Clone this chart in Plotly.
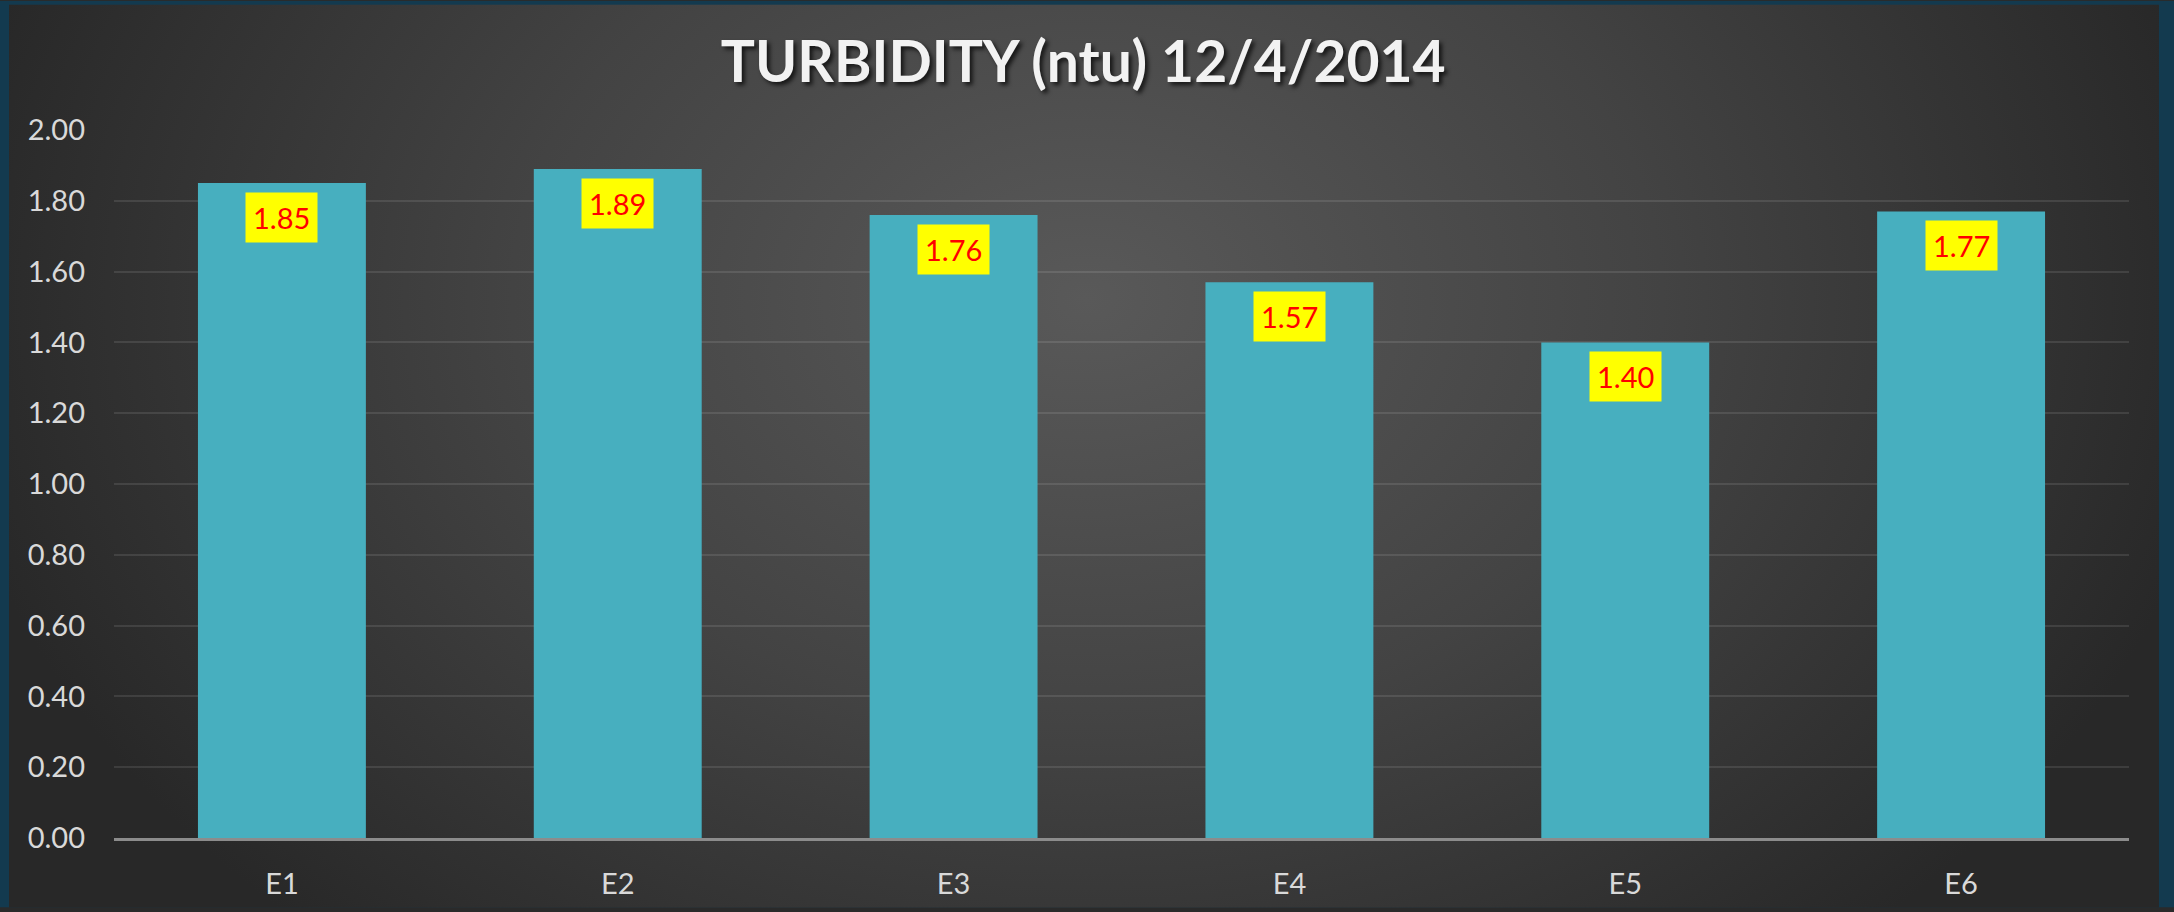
import plotly.graph_objects as go

categories = ["E1", "E2", "E3", "E4", "E5", "E6"]
turbidity = [1.85, 1.89, 1.76, 1.57, 1.40, 1.77]
y_ticks = [0.0, 0.2, 0.4, 0.6, 0.8, 1.0, 1.2, 1.4, 1.6, 1.8, 2.0]
y_tick_labels = ["0.00", "0.20", "0.40", "0.60", "0.80", "1.00", "1.20", "1.40", "1.60", "1.80", "2.00"]
title_text = "TURBIDITY (ntu) 12/4/2014"

W, H = 2174, 912
ML, MR, MT, MB = 114, 45, 130, 70
PW, PH = W - ML - MR, H - MT - MB

def px_to_paper_x(px):
    return (px - ML) / PW

def px_to_paper_y(py):
    return (H - MB - py) / PH

# full-figure background: teal frame + dark radial-gradient panel
bg_svg = (
    "data:image/svg+xml;utf8,"
    "<svg xmlns='http://www.w3.org/2000/svg' width='2174' height='912' viewBox='0 0 2174 912' preserveAspectRatio='none'>"
    "<defs><radialGradient id='g' gradientUnits='userSpaceOnUse' cx='1087' cy='300' r='1150' "
    "gradientTransform='translate(1087 300) scale(1 0.75) translate(-1087 -300)'>"
    "<stop offset='0' stop-color='%23595959'/>"
    "<stop offset='0.5' stop-color='%23434343'/>"
    "<stop offset='1' stop-color='%23282828'/>"
    "</radialGradient></defs>"
    "<rect width='2174' height='912' fill='%23133A4F'/>"
    "<rect x='9' y='4' width='2150' height='920' fill='url(%23g)'/></svg>"
)

FONT = "Lato, 'Open Sans', sans-serif"

fig = go.Figure()
fig.add_trace(go.Bar(
    x=categories,
    y=turbidity,
    marker=dict(color="#47AFBF", line=dict(width=0)),
    width=0.5,
    hoverinfo="x+y",
))

for c, v in zip(categories, turbidity):
    fig.add_annotation(
        x=c, y=v, xref="x", yref="y",
        text=f"{v:.2f}",
        showarrow=False,
        yanchor="top",
        yshift=-9,
        font=dict(family=FONT, size=29, color="#FF0000"),
        bgcolor="#FFFF00",
        borderpad=7,
    )

fig.add_layout_image(
    source=bg_svg,
    xref="paper", yref="paper",
    x=px_to_paper_x(0), y=px_to_paper_y(0),
    sizex=px_to_paper_x(W) - px_to_paper_x(0),
    sizey=px_to_paper_y(0) - px_to_paper_y(H),
    xanchor="left", yanchor="top",
    sizing="stretch",
    layer="below",
)

fig.update_layout(
    width=W, height=H, autosize=False,
    margin=dict(l=ML, r=MR, t=MT, b=MB),
    paper_bgcolor="#2A2A2A",
    plot_bgcolor="rgba(0,0,0,0)",
    showlegend=False,
    title=dict(
        text=title_text,
        x=0.481, xref="paper", xanchor="center",
        y=(H - 62) / H, yref="container", yanchor="middle",
        font=dict(family=FONT, size=57, color="#F2F2F2",
                  weight="bold", shadow="3px 3px 4px rgba(0,0,0,0.7)"),
    ),
    xaxis=dict(
        showgrid=False,
        showline=True, linecolor="#8C8C8C", linewidth=3,
        ticks="",
        tickfont=dict(family=FONT, size=29, color="#D9D9D9"),
        ticklabelstandoff=18,
    ),
    yaxis=dict(
        range=[0, 2.0],
        tickvals=y_ticks, ticktext=y_tick_labels,
        showgrid=True, gridcolor="rgba(255,255,255,0.10)", gridwidth=2,
        zeroline=False, showline=False, ticks="",
        tickfont=dict(family=FONT, size=29, color="#D9D9D9"),
        ticklabelstandoff=28,
    ),
)

fig.write_html(
    "out.html",
    config={"displayModeBar": False, "responsive": False},
    post_script="document.body.style.margin='0';document.body.style.overflow='hidden';",
)
